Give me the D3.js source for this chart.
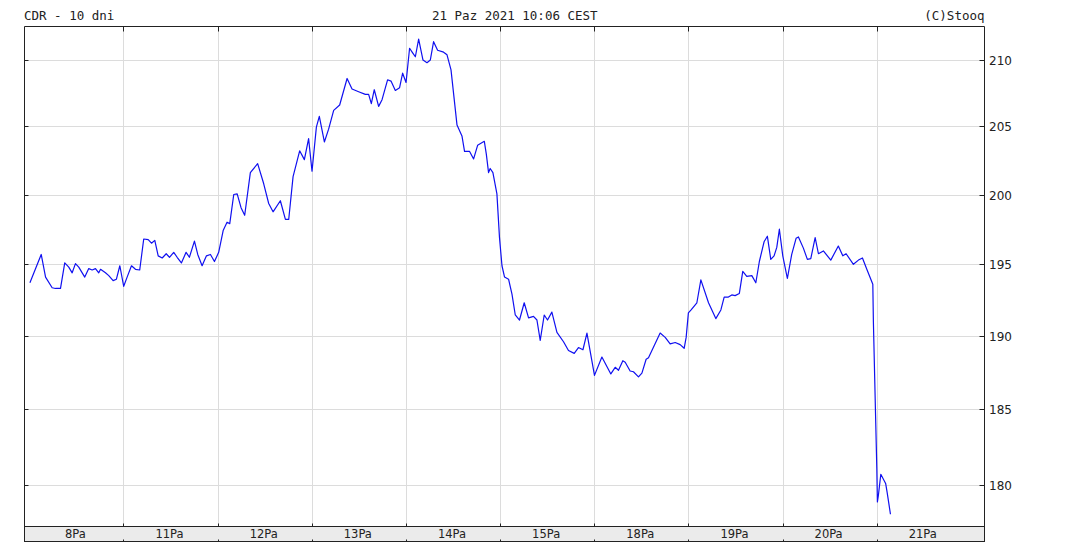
<!DOCTYPE html>
<html>
<head>
<meta charset="utf-8">
<script src="https://cdn.jsdelivr.net/npm/d3@7"></script>
<style>
  html, body { margin: 0; padding: 0; background: #fff; }
  svg { display: block; }
</style>
</head>
<body>
<svg id="chart" width="1083" height="543"></svg>
<script>
// ---- data ----
const titleText = "CDR - 10 dni";
const stampText = "21 Paz 2021 10:06 CEST";
const creditText = "(C)Stooq";
const dayLabels = ["8Pa", "11Pa", "12Pa", "13Pa", "14Pa", "15Pa", "18Pa", "19Pa", "20Pa", "21Pa"];
const yTicks = [180, 185, 190, 195, 200, 205, 210];
const hoursPerDay = 8;
// trading hours since the first session open (8 Oct 09:00)
const hours = [
  0.05, 1.01, 1.38, 1.94, 2.22, 2.65, 3.01, 3.35, 3.64, 3.92, 4.20, 4.71, 5.05, 5.34, 5.62, 5.90, 6.05, 6.47, 6.75, 7.12, 7.40, 7.69,
  8.02, 8.31, 8.68, 9.02, 9.38, 9.72, 10.10, 10.38, 10.66, 10.95, 11.29, 11.63, 11.91, 12.27, 12.56, 12.92, 13.32, 13.60, 14.03, 14.31, 14.68, 15.05, 15.39, 15.73,
  16.09, 16.47, 16.80, 17.03, 17.37, 17.66, 17.99, 18.30, 18.78, 19.40, 19.91, 20.34, 20.71, 21.33, 21.76, 22.04, 22.41, 22.97, 23.37, 23.73,
  24.02, 24.39, 24.64, 25.07, 25.43, 25.86, 26.37, 27.00, 27.42, 27.98, 28.55, 28.83, 29.06, 29.31, 29.68, 29.97, 30.44, 30.73, 31.10, 31.46, 31.72,
  32.01, 32.31, 32.57, 32.80, 33.08, 33.45, 33.79, 34.07, 34.35, 34.69, 35.20, 35.49, 35.83, 36.34, 36.76, 36.98, 37.41, 37.75, 38.09, 38.66, 38.83, 39.02, 39.16, 39.39, 39.73,
  39.95, 40.16, 40.38, 40.72, 41.01, 41.29, 41.65, 42.05, 42.42, 42.84, 43.13, 43.41, 43.75, 44.03, 44.40, 44.83, 45.39, 45.81, 46.30, 46.66, 47.04, 47.38,
  48.02, 48.65, 49.41, 49.78, 50.06, 50.43, 50.63, 51.05, 51.33, 51.76, 52.05, 52.41, 52.61, 53.60, 54.03, 54.45, 54.88, 55.30, 55.64, 55.81,
  56.00, 56.23, 56.72, 57.06, 57.71, 58.33, 58.76, 59.04, 59.40, 59.69, 59.97, 60.33, 60.62, 60.96, 61.39, 61.73, 62.03, 62.43, 62.71, 63.00, 63.28, 63.51, 63.73,
  64.02, 64.41, 64.78, 65.15, 65.35, 65.77, 66.11, 66.40, 66.77, 67.05, 67.47, 68.10, 68.74, 69.12, 69.40, 70.02, 70.45, 70.79, 71.16, 71.67, 71.72, 71.87,
  72.01, 72.06, 72.14, 72.35, 72.76, 72.89, 73.03, 73.17
];
const prices = [
  193.7, 195.7, 194.1, 193.35, 193.3, 193.3, 195.1, 194.8, 194.4, 195.05, 194.8, 194.1, 194.7, 194.6, 194.7, 194.4, 194.65, 194.4, 194.2, 193.85, 193.95, 194.9,
  193.45, 194.1, 194.9, 194.65, 194.6, 196.8, 196.75, 196.5, 196.7, 195.6, 195.45, 195.75, 195.5, 195.85, 195.5, 195.1, 195.85, 195.5, 196.65, 195.7, 194.9, 195.6, 195.7, 195.2,
  195.85, 197.4, 198.0, 197.9, 200.0, 200.05, 199.05, 198.5, 201.6, 202.25, 200.8, 199.35, 198.75, 199.55, 198.2, 198.2, 201.3, 203.2, 202.55, 204.1,
  201.7, 204.95, 205.75, 203.85, 204.8, 206.2, 206.6, 208.6, 207.8, 207.6, 207.4, 207.4, 206.7, 207.75, 206.5, 207.0, 208.5, 208.4, 207.7, 207.9, 209.0,
  208.3, 210.9, 210.55, 210.25, 211.6, 210.0, 209.8, 210.0, 211.4, 210.75, 210.6, 210.4, 209.25, 205.1, 204.3, 203.15, 203.15, 202.6, 203.6, 203.9, 202.95, 201.6, 201.9, 201.6, 200.05,
  196.9, 194.9, 194.1, 193.95, 192.9, 191.45, 191.1, 192.3, 191.25, 191.35, 191.1, 189.7, 191.45, 191.1, 191.65, 190.25, 189.6, 189.0, 188.8, 189.2, 189.05, 190.2,
  187.3, 188.55, 187.4, 187.85, 187.65, 188.3, 188.2, 187.6, 187.55, 187.2, 187.45, 188.4, 188.5, 190.2, 189.9, 189.45, 189.55, 189.4, 189.15, 189.9,
  191.6, 191.8, 192.3, 193.9, 192.3, 191.2, 191.8, 192.7, 192.7, 192.85, 192.8, 192.95, 194.5, 194.15, 194.2, 193.7, 195.2, 196.6, 197.0, 195.35, 195.6, 196.2, 197.5,
  195.6, 194.0, 195.7, 196.85, 196.95, 196.15, 195.35, 195.4, 196.9, 195.75, 195.95, 195.3, 196.3, 195.6, 195.75, 195.0, 195.3, 195.45, 194.65, 193.6, 190.95, 185.75,
  181.1, 178.9, 179.3, 180.7, 180.1, 179.5, 178.8, 178.1
];

// ---- layout ----
const L = 24.5, R = 984.5, T = 26.5, B = 526.5, BB = 541.5;
const svg = d3.select("#chart");

const x = d3.scaleLinear().domain([-0.41, 81.16]).range([L, R]);
const y = d3.scaleLog().domain([177.31, 212.57]).range([B, T]);

const boundaries = d3.range(1, dayLabels.length).map(k => k * hoursPerDay);

// grid
svg.append("g").selectAll("line").data(yTicks).join("line")
  .attr("x1", L).attr("x2", R)
  .attr("y1", d => Math.round(y(d)) + 0.5).attr("y2", d => Math.round(y(d)) + 0.5)
  .attr("stroke", "#dcdcdc").attr("stroke-width", 1);
svg.append("g").selectAll("line").data(boundaries).join("line")
  .attr("x1", d => Math.round(x(d)) + 0.5).attr("x2", d => Math.round(x(d)) + 0.5)
  .attr("y1", T).attr("y2", B)
  .attr("stroke", "#dcdcdc").attr("stroke-width", 1);

// date band
svg.append("rect").attr("x", L).attr("y", B).attr("width", R - L).attr("height", BB - B)
  .attr("fill", "#ebebeb").attr("stroke", "#222").attr("stroke-width", 1);

// frame
const frame = svg.append("g").attr("stroke", "#222").attr("stroke-width", 1).attr("fill", "none");
frame.append("path").attr("d", `M${L},${BB}V${T}H${R}V${BB}`);

// top ticks & band ticks
frame.selectAll(".tt").data(boundaries).join("line").attr("class", "tt")
  .attr("x1", d => Math.round(x(d)) + 0.5).attr("x2", d => Math.round(x(d)) + 0.5)
  .attr("y1", T).attr("y2", T + 5);
frame.selectAll(".bt").data(boundaries).join("line").attr("class", "bt")
  .attr("x1", d => Math.round(x(d)) + 0.5).attr("x2", d => Math.round(x(d)) + 0.5)
  .attr("y1", B - 3).attr("y2", B);
frame.selectAll(".bb").data(boundaries).join("line").attr("class", "bb")
  .attr("x1", d => Math.round(x(d)) + 0.5).attr("x2", d => Math.round(x(d)) + 0.5)
  .attr("y1", BB - 2).attr("y2", BB);

// left/right y ticks
frame.selectAll(".rt").data(yTicks).join("line").attr("class", "rt")
  .attr("x1", R - 5).attr("x2", R)
  .attr("y1", d => Math.round(y(d)) + 0.5).attr("y2", d => Math.round(y(d)) + 0.5);
frame.selectAll(".lt").data(yTicks).join("line").attr("class", "lt")
  .attr("x1", L).attr("x2", L + 4)
  .attr("y1", d => Math.round(y(d)) + 0.5).attr("y2", d => Math.round(y(d)) + 0.5);

// right labels
svg.append("g").selectAll("text").data(yTicks).join("text")
  .attr("x", R + 4.5).attr("y", d => Math.round(y(d)) + 0.5)
  .attr("dy", "0.36em")
  .attr("font-family", "DejaVu Sans, sans-serif").attr("font-size", 12)
  .attr("fill", "#222")
  .text(d => d);

// day labels
svg.append("g").selectAll("text").data(dayLabels).join("text")
  .attr("x", (d, i) => {
    const a = Math.max(x(i * hoursPerDay), L);
    const b = x((i + 1) * hoursPerDay);
    return (a + b) / 2 - 1;
  })
  .attr("y", (B + BB) / 2)
  .attr("dy", "0.36em")
  .attr("text-anchor", "middle")
  .attr("font-family", "DejaVu Sans, sans-serif").attr("font-size", 11.5)
  .attr("fill", "#222")
  .text(d => d);

// header
const hdr = svg.append("g").attr("font-family", "DejaVu Sans Mono, monospace")
  .attr("font-size", 12.5).attr("fill", "#222");
hdr.append("text").attr("x", 24).attr("y", 20).text(titleText);
hdr.append("text").attr("x", 432).attr("y", 20).text(stampText);
hdr.append("text").attr("x", R).attr("y", 20).attr("text-anchor", "end").text(creditText);

// price line
const pts = hours.map((h, i) => ({ h, p: prices[i] }));
svg.append("path").datum(pts)
  .attr("fill", "none").attr("stroke", "#1010f0").attr("stroke-width", 1.2)
  .attr("stroke-linejoin", "round")
  .attr("d", d3.line().x(d => x(d.h)).y(d => y(d.p)));
</script>
</body>
</html>
